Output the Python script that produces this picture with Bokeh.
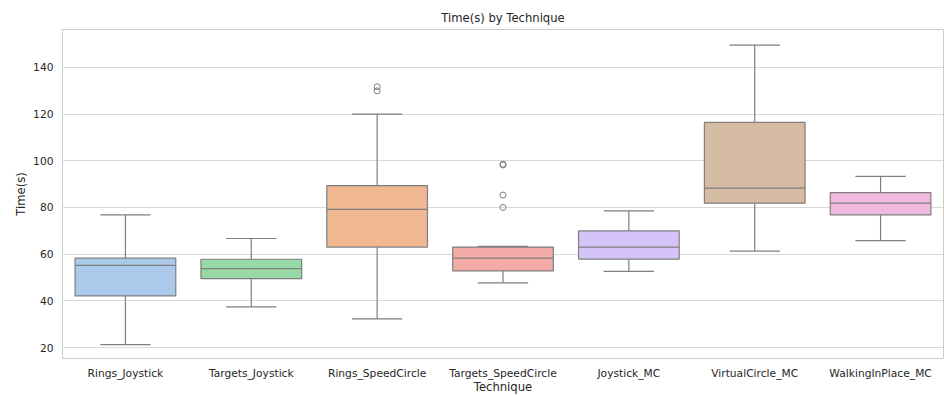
from bokeh.plotting import figure
from bokeh.models import FactorRange, Range1d, ColumnDataSource
from bokeh.transform import dodge
from bokeh.embed import file_html
from bokeh.resources import INLINE

categories = ["Rings_Joystick", "Targets_Joystick", "Rings_SpeedCircle",
              "Targets_SpeedCircle", "Joystick_MC", "VirtualCircle_MC",
              "WalkingInPlace_MC"]
whisker_low = [21.2, 37.4, 32.3, 47.7, 52.6, 61.3, 65.8]
q1 = [42.1, 49.5, 63.0, 52.8, 57.9, 81.8, 76.8]
median = [55.2, 53.8, 79.2, 58.3, 63.0, 88.3, 81.8]
q3 = [58.3, 57.8, 89.3, 63.0, 70.0, 116.4, 86.3]
whisker_high = [76.8, 66.7, 120.0, 63.3, 78.5, 149.5, 93.3]
colors = ["#abc9ea", "#98daa7", "#efb792", "#f3aba8", "#d4c4f7", "#d6bba3", "#f1b9e0"]
y_ticks = [20, 40, 60, 80, 100, 120, 140]

outlier_cat = ["Rings_SpeedCircle", "Rings_SpeedCircle", "Targets_SpeedCircle",
               "Targets_SpeedCircle", "Targets_SpeedCircle", "Targets_SpeedCircle"]
outlier_val = [131.7, 129.9, 98.5, 98.2, 85.3, 80.0]

FONT = "DejaVu Sans"
TXT = "#262626"
LINE = "#7f7f7f"
GRID = "#d9d9d9"

src = ColumnDataSource(dict(cat=categories, lo=whisker_low, q1=q1, med=median,
                            q3=q3, hi=whisker_high, color=colors))
osrc = ColumnDataSource(dict(cat=outlier_cat, val=outlier_val))

p = figure(width=944, height=396, output_backend="svg", toolbar_location=None,
           x_range=FactorRange(*categories, range_padding=0),
           y_range=Range1d(15.3, 156.2),
           title="Time(s) by Technique",
           min_border_left=62, min_border_right=1, min_border_top=29,
           min_border_bottom=37)

p.title.align = "center"
p.title.text_font = FONT
p.title.text_font_size = "11.6px"
p.title.text_font_style = "normal"
p.title.text_color = TXT

# whisker stems
p.segment(x0="cat", y0="q3", x1="cat", y1="hi", source=src, line_color=LINE, line_width=1.2)
p.segment(x0="cat", y0="lo", x1="cat", y1="q1", source=src, line_color=LINE, line_width=1.2)
# caps
p.segment(x0=dodge("cat", -0.2, range=p.x_range), y0="hi",
          x1=dodge("cat", 0.2, range=p.x_range), y1="hi",
          source=src, line_color=LINE, line_width=1.2)
p.segment(x0=dodge("cat", -0.2, range=p.x_range), y0="lo",
          x1=dodge("cat", 0.2, range=p.x_range), y1="lo",
          source=src, line_color=LINE, line_width=1.2)
# boxes
p.vbar(x="cat", width=0.8, bottom="q1", top="q3", source=src,
       fill_color="color", line_color=LINE, line_width=1.2)
# medians
p.segment(x0=dodge("cat", -0.4, range=p.x_range), y0="med",
          x1=dodge("cat", 0.4, range=p.x_range), y1="med",
          source=src, line_color=LINE, line_width=1.2)
# outliers
p.scatter(x="cat", y="val", source=osrc, size=6, marker="circle",
          fill_color=None, line_color=LINE, line_width=1.0)

p.xgrid.visible = False
p.ygrid.grid_line_color = GRID
p.ygrid.grid_line_width = 1
p.yaxis.ticker = y_ticks
p.outline_line_color = "#cccccc"
p.outline_line_width = 1

for ax in (p.xaxis, p.yaxis):
    ax.axis_line_color = None
    ax.major_tick_line_color = None
    ax.minor_tick_line_color = None
    ax.major_tick_out = 0
    ax.major_tick_in = 0
    ax.minor_tick_out = 0
    ax.major_label_text_font = FONT
    ax.major_label_text_font_size = "10.7px"
    ax.major_label_text_color = TXT
    ax.axis_label_text_font = FONT
    ax.axis_label_text_font_size = "11.6px"
    ax.axis_label_text_font_style = "normal"
    ax.axis_label_text_color = TXT

p.xaxis.axis_label = "Technique"
p.yaxis.axis_label = "Time(s)"
p.xaxis.major_label_standoff = 8
p.xaxis.axis_label_standoff = -3
p.yaxis.major_label_standoff = 9
p.yaxis.axis_label_standoff = 2

open("out.html", "w").write(file_html(p, INLINE))
